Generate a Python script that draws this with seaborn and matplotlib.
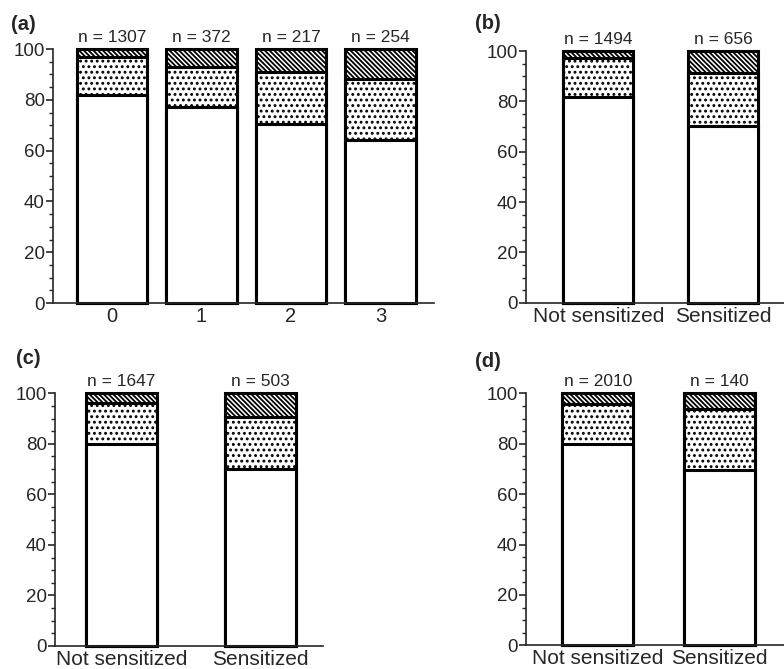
import matplotlib
matplotlib.use("Agg")
import matplotlib.pyplot as plt
import seaborn as sns
from matplotlib.ticker import MultipleLocator

# ------------------------------------------------------------------
# data (percent)
# ------------------------------------------------------------------
cats_a = ["0", "1", "2", "3"]
white_a = [82, 77, 70.5, 64]
dots_a = [97, 93, 91, 88.3]          # cumulative top of dotted part
n_a = [1307, 372, 217, 254]

cats_sens = ["Not sensitized", "Sensitized"]

white_b = [81.8, 70.4]
dots_b = [97.3, 91.3]
n_b = [1494, 656]

white_c = [80, 70]
dots_c = [96.3, 90.5]
n_c = [1647, 503]

white_d = [80, 69.6]
dots_d = [95.8, 93.6]
n_d = [2010, 140]

# ------------------------------------------------------------------
sns.set_style("ticks")
plt.rcParams["font.family"] = ["Liberation Sans", "DejaVu Sans"]
plt.rcParams["hatch.linewidth"] = 1.3

fig = plt.figure(figsize=(7.84, 6.69), dpi=100)
W, H = 784, 669


def make_ax(left, right, top, bottom):
    return fig.add_axes([left / W, 1 - bottom / H, (right - left) / W, (bottom - top) / H])


def panel(ax, cats, white, dots, ns, width, xlim, letter, xfs):
    full = [100] * len(cats)
    style = dict(edgecolor="black", linewidth=2.2, width=width, ax=ax, clip_on=False)
    sns.barplot(x=cats, y=full, color="white", hatch="\\" * 7, saturation=1, **style)
    sns.barplot(x=cats, y=dots, color="white", hatch="...", saturation=1, **style)
    sns.barplot(x=cats, y=white, color="white", saturation=1, **style)
    for p in ax.patches:
        p.set_facecolor("white")
        p.set_clip_on(False)

    ax.set_ylim(0, 100)
    ax.set_xlim(*xlim)
    ax.set_xlabel("")
    ax.set_ylabel("")
    sns.despine(ax=ax)
    ax.spines["left"].set_linewidth(1.2)
    ax.spines["bottom"].set_linewidth(1.2)
    ax.yaxis.set_major_locator(MultipleLocator(20))
    ax.yaxis.set_minor_locator(MultipleLocator(5))
    ax.tick_params(axis="y", which="major", length=5, width=1.2, labelsize=13.5, pad=1)
    ax.tick_params(axis="y", which="minor", length=3, width=1.0)
    ax.tick_params(axis="x", length=0, labelsize=xfs, pad=3)

    for i, n in enumerate(ns):
        ax.annotate(f"n = {n}", (i, 100), xytext=(0, 3), textcoords="offset points",
                    ha="center", va="bottom", fontsize=12.5)
    fig.text(letter[0] / W, 1 - letter[1] / H, letter[2], fontsize=14.5,
             fontweight="bold", ha="left", va="top")


ax_a = make_ax(53, 434, 49, 303)
panel(ax_a, cats_a, white_a, dots_a, n_a, 0.79, (-0.66, 3.6), (11, 15, "(a)"), 14.5)

ax_b = make_ax(526, 784, 51, 302.7)
panel(ax_b, cats_sens, white_b, dots_b, n_b, 0.56, (-0.58, 1.49), (475, 14, "(b)"), 15)

ax_c = make_ax(55, 323, 393.3, 646)
panel(ax_c, cats_sens, white_c, dots_c, n_c, 0.51, (-0.48, 1.45), (16, 349, "(c)"), 15)

ax_d = make_ax(526, 784, 393.3, 645.3)
panel(ax_d, cats_sens, white_d, dots_d, n_d, 0.585, (-0.59, 1.53), (475, 352, "(d)"), 15)

fig.savefig("out.png", dpi=100)
